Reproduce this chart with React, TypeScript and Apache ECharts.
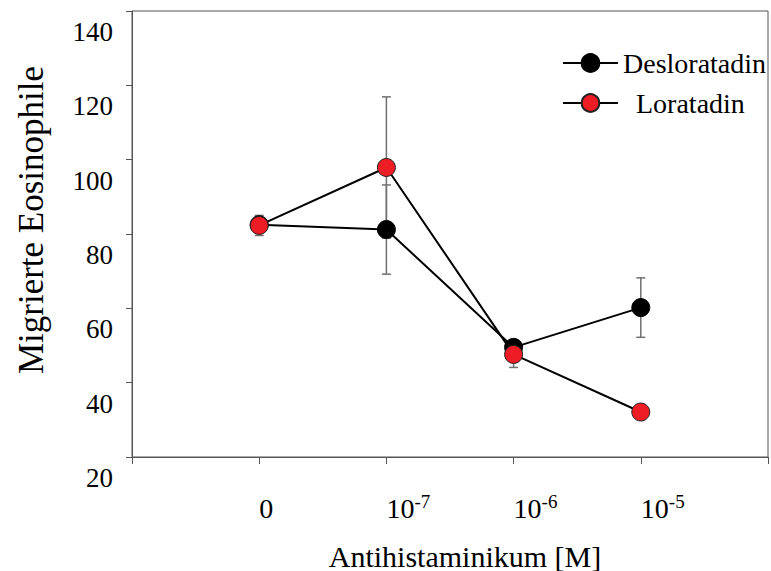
import React, { useEffect, useRef } from "react";
import * as echarts from "echarts";

// Concentration steps on the x axis (positions 1..4)
const doseLabels = ["{b|0}", "{b|10}{s|-7}", "{b|10}{s|-6}", "{b|10}{s|-5}"];
const doseX = [1, 2, 3, 4];

// Migrated eosinophils, mean and error
const deslo = [82.5, 81.2, 49.5, 60.2];
const desloErr = [2, 12, 1.5, 8];
const lora = [82.3, 97.9, 47.6, 32.1];
const loraErr = [2.7, 19, 3.5, 1];

const yTicks = [20, 40, 60, 80, 100, 120, 140];

const FONT = "Liberation Serif";

function errorSeries(name: string, vals: number[], errs: number[], z: number) {
  return {
    type: "custom",
    name: name + "-err",
    z,
    silent: true,
    data: doseX.map((x, i) => [x, vals[i] - errs[i], vals[i] + errs[i]]),
    encode: { x: 0, y: [1, 2] },
    renderItem: (params: any, api: any) => {
      const x = api.value(0);
      const lo = api.coord([x, api.value(1)]);
      const hi = api.coord([x, api.value(2)]);
      const w = 4.5;
      const style = { stroke: "#707070", lineWidth: 1.5 };
      return {
        type: "group",
        children: [
          { type: "line", shape: { x1: lo[0], y1: lo[1], x2: hi[0], y2: hi[1] }, style },
          { type: "line", shape: { x1: lo[0] - w, y1: lo[1], x2: lo[0] + w, y2: lo[1] }, style },
          { type: "line", shape: { x1: hi[0] - w, y1: hi[1], x2: hi[0] + w, y2: hi[1] }, style },
        ],
      };
    },
  };
}

export default function App() {
  const ref = useRef<HTMLDivElement>(null);

  useEffect(() => {
    if (!ref.current) return;
    const chart = echarts.init(ref.current, null, { renderer: "svg" });
    const axisColor = "#555";
    chart.setOption({
      animation: false,
      backgroundColor: "#fff",
      textStyle: { fontFamily: FONT },
      grid: {
        left: 132,
        right: 2,
        top: 11,
        bottom: 114,
        show: true,
        borderColor: axisColor,
        borderWidth: 1,
      },
      graphic: [
        {
          type: "text",
          x: 31,
          y: 220,
          rotation: Math.PI / 2,
          style: {
            text: "Migrierte Eosinophile",
            fontFamily: FONT,
            fontSize: 35,
            fill: "#000",
            align: "center",
            verticalAlign: "middle",
          },
        },
        {
          type: "text",
          x: 465,
          y: 556,
          style: {
            text: "Antihistaminikum [M]",
            fontFamily: FONT,
            fontSize: 30,
            fill: "#000",
            align: "center",
            verticalAlign: "middle",
          },
        },
      ],
      legend: {
        orient: "vertical",
        left: 562,
        top: 48,
        padding: 0,
        itemWidth: 55,
        itemHeight: 22,
        itemGap: 6,
        textStyle: { fontFamily: FONT, fontSize: 28, lineHeight: 30, color: "#000" },
        data: [
          { name: "Desloratadin" },
          { name: "Loratadin", textStyle: { padding: [8, 0, 0, 13] } },
        ],
      },
      xAxis: {
        type: "value",
        min: 0,
        max: 5,
        interval: 1,
        axisLine: { show: true, lineStyle: { color: axisColor, width: 1 } },
        axisTick: { show: true, length: 7, lineStyle: { color: axisColor } },
        splitLine: { show: false },
        axisLabel: {
          margin: 35,
          align: "left",
          fontFamily: FONT,
          color: "#000",
          formatter: (v: number) => {
            const i = doseX.indexOf(v);
            return i >= 0 ? doseLabels[i] : "";
          },
          rich: {
            b: { fontFamily: FONT, fontSize: 28, lineHeight: 32, color: "#000" },
            s: { fontFamily: FONT, fontSize: 19, lineHeight: 13, color: "#000", verticalAlign: "top" },
          },
        },
      },
      yAxis: {
        type: "value",
        min: 20,
        max: 140,
        interval: 20,
        axisLine: { show: true, lineStyle: { color: axisColor, width: 1 } },
        axisTick: { show: true, length: 6, lineStyle: { color: axisColor } },
        splitLine: { show: false },
        axisLabel: {
          margin: 19,
          fontFamily: FONT,
          fontSize: 27,
          lineHeight: 42,
          verticalAlign: "top",
          color: "#000",
          formatter: (v: number) => (yTicks.includes(v) ? String(v) : ""),
        },
      },
      series: [
        errorSeries("Desloratadin", deslo, desloErr, 1),
        errorSeries("Loratadin", lora, loraErr, 1),
        {
          type: "line",
          name: "Desloratadin",
          z: 3,
          data: doseX.map((x, i) => [x, deslo[i]]),
          symbol: "circle",
          symbolSize: 18,
          itemStyle: { color: "#000", borderColor: "#000", borderWidth: 1 },
          lineStyle: { color: "#000", width: 2 },
        },
        {
          type: "line",
          name: "Loratadin",
          z: 4,
          data: doseX.map((x, i) => [x, lora[i]]),
          symbol: "circle",
          symbolSize: 18,
          itemStyle: { color: "#ee1c25", borderColor: "#222", borderWidth: 1 },
          lineStyle: { color: "#000", width: 2 },
        },
      ],
    });
    return () => chart.dispose();
  }, []);

  return <div ref={ref} style={{ width: 771, height: 571, position: "absolute", left: 0, top: 0 }} />;
}
